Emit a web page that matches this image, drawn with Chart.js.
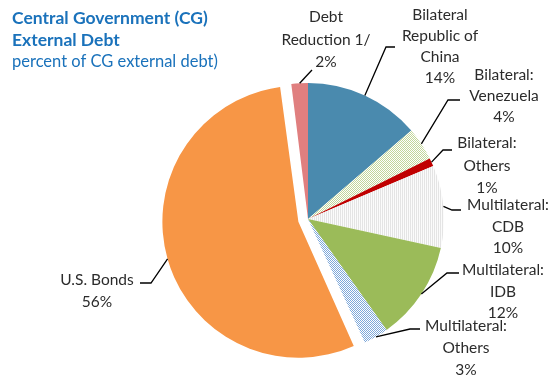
<!DOCTYPE html>
<html>
<head>
<meta charset="utf-8">
<script src="https://cdn.jsdelivr.net/npm/chart.js@4.4.1/dist/chart.umd.min.js"></script>
<style>
  html, body { margin: 0; padding: 0; background: #fff; }
  canvas { display: block; }
</style>
</head>
<body>
<canvas id="debtPie" width="550" height="375"></canvas>
<script>
// slices, clockwise from 12 o'clock
const categories = ['Bilateral Republic of China', 'Bilateral: Venezuela', 'Bilateral: Others',
  'Multilateral: CDB', 'Multilateral: IDB', 'Multilateral: Others', 'U.S. Bonds', 'Debt Reduction 1/'];
const shares = [14, 4, 1, 10, 12, 3, 56, 2];
const labelLines = [
  ['Bilateral', 'Republic of', 'China'],
  ['Bilateral:', 'Venezuela'],
  ['Bilateral:', 'Others'],
  ['Multilateral:', 'CDB'],
  ['Multilateral:', 'IDB'],
  ['Multilateral:', 'Others'],
  ['U.S. Bonds'],
  ['Debt', 'Reduction 1/']
];
const titleLines = ['Central Government (CG)', 'External Debt'];
const subtitle = 'percent of CG external debt)';

// small repeating fills for the hatched slices
function makePattern(w, h, paint) {
  const c = document.createElement('canvas');
  c.width = w; c.height = h;
  const g = c.getContext('2d');
  paint(g);
  return g.createPattern(c, 'repeat');
}
const checker = (fg, bg) => makePattern(2, 2, g => {
  g.fillStyle = bg; g.fillRect(0, 0, 2, 2);
  g.fillStyle = fg; g.fillRect(0, 0, 1, 1); g.fillRect(1, 1, 1, 1);
});
const stripes = makePattern(2, 1, g => {
  g.fillStyle = '#fbfbfb'; g.fillRect(0, 0, 2, 1);
  g.fillStyle = '#e4e4e4'; g.fillRect(0, 0, 1, 1);
});

const fills = [
  '#4a8aae',
  checker('#c2d69a', '#ffffff'),
  '#c00000',
  stripes,
  '#9bbb59',
  checker('#7ea8da', '#ffffff'),
  '#f79646',
  '#e07f7f'
];

// pulled-out slice (Chart.js moves an arc by offset / 4)
const explode = [0, 0, 0, 0, 0, 0, 40, 0];

// callout placement: text centre x, first line y, line step, leader bend and end
const callouts = [
  { x: 440, y: 15, step: 21, bend: [386, 47], end: [395, 47] },
  { x: 504, y: 75, step: 21, bend: [448, 100], end: [460, 100] },
  { x: 487, y: 143, step: 22.5, bend: [443, 150], end: [452, 150] },
  { x: 508, y: 205, step: 21.5, bend: [452, 210], end: [461, 210] },
  { x: 503, y: 270, step: 21.5, bend: [447, 273], end: [459, 273] },
  { x: 466, y: 326, step: 22, bend: [410, 329], end: [420, 329] },
  { x: 97, y: 280, step: 22, bend: [151, 283], end: [140, 283] },
  { x: 326, y: 17, step: 22.5, bend: [312, 70], end: [312, 70] }
];

// an exploded arc wider than a half circle also grows by offset / 4; keep it at the common radius
const keepRadius = {
  id: 'keepRadius',
  afterDatasetsUpdate(chart) {
    chart.getDatasetMeta(0).data.forEach((arc, i) => {
      if (explode[i] && arc.circumference >= Math.PI) {
        arc.outerRadius -= explode[i] / 4;
      }
    });
  }
};

const calloutPlugin = {
  id: 'callouts',
  afterDraw(chart) {
    const ctx = chart.ctx;
    const meta = chart.getDatasetMeta(0);
    const radius = meta.controller.outerRadius;
    ctx.save();

    // title block
    ctx.fillStyle = '#1a72bb';
    ctx.textAlign = 'left';
    ctx.textBaseline = 'middle';
    ctx.font = 'bold 17.5px Lato';
    titleLines.forEach((t, i) => ctx.fillText(t, 12, 18 + i * 22));
    ctx.font = '16.5px Lato';
    ctx.fillText(subtitle, 12, 62);

    meta.data.forEach((arc, i) => {
      const p = arc.getProps(['x', 'y', 'startAngle', 'endAngle'], true);
      const mid = (p.startAngle + p.endAngle) / 2;
      const r = radius + explode[i] / 4;
      const ax = p.x + Math.cos(mid) * r;
      const ay = p.y + Math.sin(mid) * r;
      const c = callouts[i];

      ctx.strokeStyle = '#000';
      ctx.lineWidth = 1.3;
      ctx.beginPath();
      ctx.moveTo(ax, ay);
      ctx.lineTo(c.bend[0], c.bend[1]);
      ctx.lineTo(c.end[0], c.end[1]);
      ctx.stroke();

      const lines = labelLines[i].concat([shares[i] + '%']);
      ctx.fillStyle = '#2b2b2b';
      ctx.textAlign = 'center';
      ctx.font = '15.5px Lato';
      lines.forEach((t, k) => ctx.fillText(t, c.x, c.y + k * c.step));
    });
    ctx.restore();
  }
};

const ctx = document.getElementById('debtPie').getContext('2d');
const debtPie = new Chart(ctx, {
  type: 'pie',
  data: {
    labels: categories,
    datasets: [{
      data: shares,
      backgroundColor: fills,
      borderWidth: 0,
      offset: explode
    }]
  },
  options: {
    responsive: false,
    animation: false,
    layout: { padding: { left: 152, right: 86, top: 63, bottom: 0 } },
    plugins: {
      legend: { display: false },
      tooltip: { enabled: false }
    }
  },
  plugins: [keepRadius, calloutPlugin]
});
</script>
</body>
</html>
